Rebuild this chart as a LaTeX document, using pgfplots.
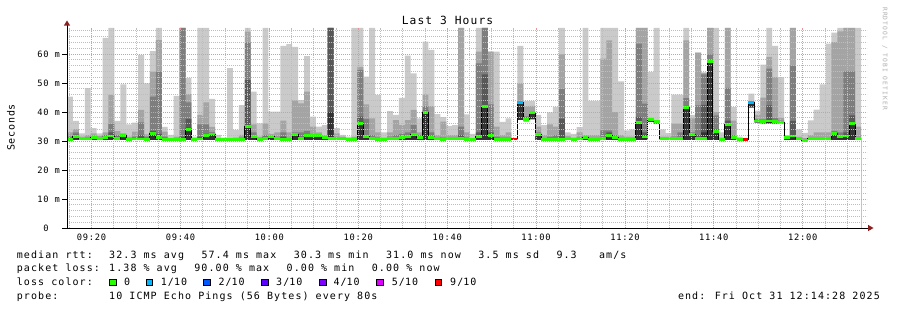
\documentclass[border=0pt]{standalone}
\usepackage{fontspec}
\setmainfont{DejaVu Sans Mono}
\newfontfamily\lgdfont[LetterSpace=10.8]{DejaVu Sans Mono}
\newfontfamily\axfont[LetterSpace=8.3]{DejaVu Sans Mono}
\newfontfamily\ttlfont[LetterSpace=10]{DejaVu Sans Mono}
\newfontfamily\unitfont[LetterSpace=7.8]{DejaVu Sans Mono}
\newfontfamily\wmfont[LetterSpace=17.6]{DejaVu Sans Mono}
\usepackage{pgfplots}
\pgfplotsset{compat=1.18}
\usepackage{pgfplotstable}
\usetikzlibrary{arrows.meta}

\definecolor{sa}{HTML}{CACACA}
\definecolor{sb}{HTML}{A4A4A4}
\definecolor{sc}{HTML}{7E7E7E}
\definecolor{sd}{HTML}{585858}
\definecolor{se}{HTML}{323232}
\definecolor{lossA}{HTML}{26FF00}
\definecolor{lossB}{HTML}{00B8FF}
\definecolor{lossC}{HTML}{0059FF}
\definecolor{lossD}{HTML}{5E00FF}
\definecolor{lossE}{HTML}{7E00FF}
\definecolor{lossF}{HTML}{DD00FF}
\definecolor{lossJ}{HTML}{FF0000}
\definecolor{mgrid}{HTML}{F09090}
\definecolor{ngrid}{HTML}{BDBDBD}
\definecolor{arr}{HTML}{8B2020}

% k = 80 s step index (09:14:28 = 0), b = smoke bottom, t1..t5 = tops of smoke shades (light -> dark), m = median (ms)
\pgfplotstableread{
k b t1 t2 t3 t4 t5 m
0 30.3 45.3 33.0 31.5 31.0 30.8 30.6
1 30.3 36.9 34.1 33.0 32.2 31.7 31.5
2 30.3 32.6 31.5 31.0 30.9 30.8 30.7
3 30.3 48.2 32.0 31.2 31.0 30.8 30.7
4 30.3 34.4 32.6 31.8 31.4 31.2 31.1
5 30.3 32.6 31.8 31.4 31.2 31.0 30.9
6 30.3 65.6 33.0 32.0 31.7 31.5 31.3
7 30.3 69 45.9 35.9 33.0 32.0 31.7
8 30.3 36.9 33.4 32.0 31.5 31.2 31.0
9 30.3 49.5 32.6 32.3 32.1 32.0 31.8
10 30.3 35.7 31.5 31.0 30.7 30.5 30.4
11 30.3 36.3 33.2 31.5 31.0 30.8 30.7
12 30.3 59.7 40.7 36.4 32.0 31.0 30.7
13 30.3 49.9 32.3 31.5 31.0 30.8 30.6
14 30.3 61.0 53.9 45.3 33.5 33.0 32.6
15 30.3 69 64.8 53.9 32.5 31.6 31.3
16 30.3 34.9 33.2 31.5 30.8 30.6 30.4
17 30.3 32.1 31.0 30.7 30.5 30.4 30.4
18 30.3 45.6 31.5 31.0 30.7 30.5 30.4
19 30.3 69 69 69 31.5 30.9 30.6
20 30.3 51.8 46.2 43.3 37.6 34.5 34.1
21 30.3 31.5 31.0 30.8 30.6 30.5 30.4
22 30.3 69 39.0 35.7 31.5 30.9 30.7
23 30.3 69 43.3 35.7 32.5 32.2 32.0
24 30.3 44.5 34.9 33.0 32.8 32.6 32.4
25 30.3 32.1 31.0 30.8 30.7 30.6 30.6
26 30.3 31.2 30.8 30.6 30.5 30.4 30.4
27 30.3 55.1 31.0 30.7 30.5 30.4 30.4
28 30.3 33.8 31.2 30.8 30.7 30.6 30.6
29 30.3 42.4 32.1 31.2 30.9 30.7 30.6
30 30.3 69 67.7 64.0 51.0 35.5 34.9
31 30.3 47.0 35.7 33.0 32.0 31.7 31.5
32 30.3 36.1 31.5 31.0 30.8 30.7 30.6
33 30.3 69 36.1 32.0 31.5 31.1 30.9
34 30.3 40.1 32.5 32.0 31.8 31.6 31.5
35 30.3 40.1 33.0 31.5 31.2 31.0 30.9
36 30.3 62.8 37.0 33.0 31.5 30.8 30.6
37 30.3 63.4 33.0 31.0 30.7 30.5 30.4
38 30.3 62.5 44.0 33.0 32.6 32.4 32.2
39 30.3 44.1 43.0 33.0 31.5 31.1 31.0
40 30.3 59.3 47.0 33.5 32.2 32.0 31.9
41 30.3 38.4 35.0 32.5 32.0 31.9 31.8
42 30.3 35.0 33.0 32.3 32.0 31.9 31.8
43 30.3 35.5 32.0 31.6 31.5 31.4 31.3
44 30.3 69 69 69 69 40.0 31.0
45 30.3 34.4 32.6 31.2 31.0 30.9 30.9
46 30.3 32.1 31.5 31.2 31.1 31.0 30.9
47 30.3 31.5 31.0 30.8 30.7 30.7 30.6
48 30.3 69 31.5 31.0 30.8 30.7 30.6
49 30.3 69 55.6 54.5 38.4 36.3 35.9
50 30.3 52.2 42.6 37.6 32.0 31.6 31.5
51 30.3 69 37.8 32.0 31.2 31.0 30.9
52 30.3 45.9 33.0 31.2 30.9 30.7 30.6
53 30.3 33.0 31.2 30.9 30.7 30.6 30.6
54 30.3 40.3 33.0 31.5 31.1 31.0 30.9
55 30.3 39.0 37.2 32.0 31.2 31.0 30.9
56 30.3 44.9 35.5 32.5 31.6 31.4 31.3
57 30.3 59.4 37.2 33.0 31.8 31.6 31.5
58 30.3 53.3 40.7 35.5 32.6 32.4 32.2
59 30.3 37.8 33.0 32.0 31.6 31.4 31.3
60 30.3 64.3 46.1 42.0 40.5 40.0 39.7
61 30.3 61.4 42.0 33.0 31.7 31.5 31.3
62 30.3 39.3 32.0 31.3 31.1 31.0 30.9
63 30.3 38.2 36.7 31.2 30.9 30.7 30.6
64 30.3 35.2 32.0 31.2 31.0 30.9 30.9
65 30.3 35.5 32.0 31.2 31.0 30.9 30.9
66 30.3 69 69 35.0 32.0 31.0 30.9
67 30.3 39.2 33.0 31.2 30.8 30.7 30.6
68 30.3 32.5 31.0 30.7 30.5 30.4 30.4
69 30.3 69 60.8 56.8 33.0 31.8 31.5
70 30.3 69 69 69 53.0 42.4 41.8
71 30.3 60.8 60.8 42.6 33.0 32.0 31.8
72 30.3 60.8 35.0 31.5 31.0 30.8 30.6
73 30.3 36.6 32.0 31.2 30.9 30.7 30.6
74 30.3 37.8 33.0 31.2 30.9 30.7 30.6
75 30.3 30.8 30.8 30.7 30.7 30.7 30.7
76 37.2 62.8 49.7 43.3 43.3 43.3 43.2
77 36.8 43.8 42.0 38.5 38.0 37.7 37.5
78 37.5 43.8 42.1 40.1 40.0 39.9 39.7
79 30.3 39.0 35.0 33.0 32.6 32.4 32.2
80 30.3 35.5 32.0 31.0 30.8 30.7 30.6
81 30.3 39.9 35.7 31.5 30.9 30.7 30.6
82 30.3 41.8 35.0 32.0 31.0 30.8 30.6
83 30.3 69 59.9 48.0 37.7 31.0 30.6
84 30.3 33.0 31.8 31.3 31.1 31.0 31.0
85 30.3 32.5 31.2 30.9 30.8 30.7 30.6
86 30.3 34.8 33.0 31.2 30.9 30.8 30.7
87 30.3 69 32.0 31.6 31.4 31.2 31.1
88 30.3 43.8 32.0 31.0 30.8 30.7 30.6
89 30.3 43.8 32.0 31.0 30.8 30.7 30.6
90 30.3 69 58.4 33.7 31.2 31.0 30.8
91 30.3 69 64.7 33.7 33.0 32.3 32.0
92 30.3 69 40.0 32.0 31.5 31.3 31.2
93 30.3 50.6 32.0 31.0 30.8 30.7 30.6
94 30.3 33.7 31.5 30.9 30.8 30.7 30.6
95 30.3 34.0 31.5 30.9 30.8 30.7 30.6
96 30.3 69 69 63.6 38.3 36.5 36.3
97 30.3 69 69 42.9 33.0 31.7 31.4
98 36.5 53.8 38.0 37.8 37.7 37.6 37.4
99 36.0 69 37.2 37.0 36.9 36.8 36.6
100 30.3 34.0 31.5 31.0 30.9 30.8 30.8
101 30.3 32.7 31.5 31.0 30.9 30.8 30.8
102 30.3 46.0 36.0 31.5 31.0 30.9 30.8
103 30.3 46.0 36.0 33.0 31.2 30.9 30.8
104 30.3 69 64.7 44.8 42.0 41.8 41.5
105 30.3 39.0 37.8 33.0 32.6 32.4 32.2
106 30.3 60.5 60.5 42.3 32.0 31.2 31.0
107 30.3 53.6 53.6 53.0 42.5 33.0 31.0
108 30.3 69 69 59.9 57.6 57.5 57.3
109 30.3 69 40.0 38.8 34.0 33.6 33.4
110 30.3 33.0 31.2 30.9 30.8 30.7 30.6
111 30.3 69 69 48.3 37.0 36.0 35.7
112 30.3 41.7 37.0 32.0 31.6 31.4 31.3
113 30.3 31.5 31.0 30.8 30.7 30.6 30.6
114 30.3 30.5 30.5 30.5 30.5 30.4 30.4
115 41.5 46.3 43.6 43.6 43.5 43.5 43.4
116 36.3 40.5 39.0 37.5 37.2 37.0 36.9
117 36.0 56.3 45.0 37.5 37.0 36.8 36.6
118 36.0 69 59.0 55.0 42.3 37.2 36.9
119 36.0 62.8 52.0 38.0 37.0 36.8 36.6
120 36.0 52.0 38.0 37.0 36.7 36.5 36.3
121 30.3 32.0 31.5 31.3 31.2 31.1 31.1
122 30.3 69 69 56.0 36.9 32.0 31.7
123 30.3 34.0 31.5 31.0 30.9 30.8 30.8
124 30.3 32.8 31.0 30.7 30.5 30.4 30.3
125 30.3 37.1 32.0 31.2 31.0 30.9 30.9
126 30.3 40.8 33.0 31.3 31.0 30.9 30.8
127 30.3 49.5 33.0 31.2 31.0 30.9 30.8
128 30.3 63.6 33.0 31.3 31.1 31.0 30.9
129 30.3 67.4 64.1 33.5 32.9 32.7 32.5
130 30.3 69 67.8 33.0 32.0 31.8 31.6
131 30.3 69 69 54.0 33.0 32.0 31.7
132 30.3 69 69 54.0 38.8 36.3 36.0
133 30.3 69 35.0 31.5 31.0 30.9 30.8
134 30.3 69 35.0 31.5 31.0 30.9 30.8
}\smoke

\newcommand{\lgt}[3]{\node[anchor=base west, inner sep=0pt, font=\lgdfont\fontsize{10bp}{12bp}\selectfont] at ({16.7+7.1*#1},#2) {#3};}

\begin{document}
\begin{tikzpicture}[x=1bp,y=1bp]
\begin{axis}[
  at={(67bp,82bp)}, anchor=south west,
  scale only axis, width=800bp, height=200.1bp,
  xmin=0, xmax=135, ymin=0, ymax=69,
  axis on top,
  axis line style={draw=none},
  tick style={draw=none},
  xtick={4.15,19.15,34.15,49.15,64.15,79.15,94.15,109.15,124.15},
  xticklabels={09:20,09:40,10:00,10:20,10:40,11:00,11:20,11:40,12:00},
  minor xtick={0.4,7.9,11.65,15.4,22.9,26.65,30.4,37.9,41.65,45.4,52.9,56.65,60.4,67.9,71.65,75.4,82.9,86.65,90.4,97.9,101.65,105.4,112.9,116.65,120.4,127.9,131.65},
  ytick={0,10,20,30,40,50,60},
  yticklabels={0\phantom{\ m},10 m,20 m,30 m,40 m,50 m,60 m},
  minor ytick={2,4,6,8,12,14,16,18,22,24,26,28,32,34,36,38,42,44,46,48,52,54,56,58,62,64,66,68},
  grid=both,
  major grid style={mgrid, line width=0.8bp, dash pattern=on 1bp off 1bp},
  minor grid style={ngrid, line width=0.8bp, dash pattern=on 1bp off 1bp},
  tick label style={font=\axfont\fontsize{8.75bp}{10bp}\selectfont, inner sep=0pt},
  yticklabel style={anchor=east, xshift=-7bp},
  xticklabel style={anchor=north, yshift=-6.3bp},
]
\addplot[fill=sa, draw=none, const plot mark left] table[x=k, y=t1] {\smoke} \closedcycle;
\addplot[fill=sb, draw=none, const plot mark left] table[x=k, y=t2] {\smoke} \closedcycle;
\addplot[fill=sc, draw=none, const plot mark left] table[x=k, y=t3] {\smoke} \closedcycle;
\addplot[fill=sd, draw=none, const plot mark left] table[x=k, y=t4] {\smoke} \closedcycle;
\addplot[fill=se, draw=none, const plot mark left] table[x=k, y=t5] {\smoke} \closedcycle;
\addplot[fill=white, draw=none, const plot mark left] table[x=k, y=b] {\smoke} \closedcycle;
\addplot[black, line width=1bp, const plot mark left] table[x=k, y=m] {\smoke};
\addplot[draw=lossA, line width=2.8bp, line cap=butt, quiver={u=1, v=0}, skip coords between index={134}{135}] table[x=k, y=m] {\smoke};
\addplot[draw=lossJ, line width=2.8bp, line cap=butt, quiver={u=1, v=0}] coordinates {(75,30.7) (114,30.4)};
\addplot[draw=lossB, line width=2.8bp, line cap=butt, quiver={u=1, v=0}] coordinates {(76,43.2) (115,43.4)};
\end{axis}

% axes, ticks and arrows
\draw[black, line width=1bp] (67,82) -- (67,285);
\draw[black, line width=1bp] (66.5,82) -- (868.5,82);
\fill[arr] (63.8,284.3) -- (70.2,284.3) -- (67,289.5) -- cycle;
\fill[arr] (868,85.2) -- (868,78.8) -- (873.5,82) -- cycle;
\foreach \v in {0,10,...,60} { \draw[black, line width=1bp] (62,{82+2.9*\v}) -- (67,{82+2.9*\v}); }

% title, unit, watermark
\node[anchor=base, inner sep=0pt, font=\ttlfont\fontsize{11.25bp}{13bp}\selectfont] at (447.5,285.7) {Last 3 Hours};
\node[rotate=90, inner sep=0pt, font=\unitfont\fontsize{10bp}{12bp}\selectfont] at (11,182.5) {Seconds};
\node[rotate=-90, inner sep=0pt, text=black!32, font=\wmfont\fontsize{6.25bp}{8bp}\selectfont] at (885,251.5) {RRDTOOL / TOBI OETIKER};

% legend lines
\lgt{0}{51.7}{median rtt:}
\lgt{13}{51.7}{32.3 ms avg}
\lgt{26}{51.7}{57.4 ms max}
\lgt{39}{51.7}{30.3 ms min}
\lgt{52}{51.7}{31.0 ms now}
\lgt{65}{51.7}{3.5 ms sd}
\lgt{76}{51.7}{9.3}
\lgt{82}{51.7}{am/s}
\lgt{0}{38.2}{packet loss:}
\lgt{13}{38.2}{1.38 \% avg}
\lgt{25}{38.2}{90.00 \% max}
\lgt{38}{38.2}{0.00 \% min}
\lgt{50}{38.2}{0.00 \% now}
\lgt{0}{24.5}{loss color:}
\foreach \bx/\c in {109.3/lossA,146/lossB,203.3/lossC,261.3/lossD,319.3/lossE,376.7/lossF,435/lossJ} {
  \filldraw[fill=\c, draw=black, line width=0.5bp] (\bx,24.3) rectangle ++(6.6,6.6);
}
\foreach \tx/\t in {124/0,160.7/1\slash 10,218.3/2\slash 10,276/3\slash 10,333.3/4\slash 10,391.7/5\slash 10,450/9\slash 10} {
  \node[anchor=base west, inner sep=0pt, font=\lgdfont\fontsize{10bp}{12bp}\selectfont] at (\tx,24.5) {\t};
}
\lgt{0}{10.7}{probe:}
\lgt{13}{10.7}{10 ICMP Echo Pings (56 Bytes) every 80s}
\node[anchor=base east, inner sep=0pt, font=\lgdfont\fontsize{10bp}{12bp}\selectfont] at (880,10.7) {end: Fri Oct 31 12:14:28 2025};

\pgfresetboundingbox
\path[use as bounding box] (0,0) rectangle (897,310);
\end{tikzpicture}
\end{document}
